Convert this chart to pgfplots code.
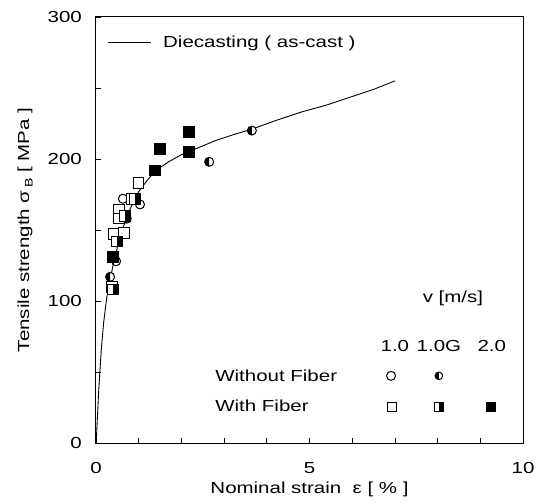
\documentclass[border=0pt]{standalone}
\usepackage{pgfplots}
\pgfplotsset{compat=1.18}
\usepackage{fontspec}
\setmainfont[FakeStretch=1.28]{Liberation Sans}
\usetikzlibrary{plotmarks}
\newcommand{\fs}{\fontsize{16bp}{18bp}\selectfont}
\pgfdeclareplotmark{hsqr}{%
  \pgfpathrectangle{\pgfpoint{-\pgfplotmarksize}{-\pgfplotmarksize}}{\pgfpoint{2\pgfplotmarksize}{2\pgfplotmarksize}}%
  \pgfsetfillcolor{white}\pgfusepathqfill
  \pgfpathrectangle{\pgfpoint{0pt}{-\pgfplotmarksize}}{\pgfpoint{\pgfplotmarksize}{2\pgfplotmarksize}}%
  \pgfsetfillcolor{black}\pgfusepathqfill
  \pgfpathrectangle{\pgfpoint{-\pgfplotmarksize}{-\pgfplotmarksize}}{\pgfpoint{2\pgfplotmarksize}{2\pgfplotmarksize}}%
  \pgfusepathqstroke
}
\begin{document}
\begin{tikzpicture}
\begin{axis}[
 scale only axis, width=427bp, height=426bp,
 xmin=0, xmax=10, ymin=0, ymax=300,
 xtick={0,5,10}, minor xtick={1,2,3,4,6,7,8,9},
 ytick={0,100,200,300}, minor ytick={50,150,250},
 xtick pos=bottom, ytick pos=left,
 tick align=inside, major tick length=5bp, minor tick length=5bp,
 tick style={black, line width=0.8bp},
 axis line style={line width=1bp},
 /pgf/number format/assume math mode=true,
 tick label style={font=\fs},
 xticklabel style={anchor=center, yshift=-25bp},
 yticklabel style={anchor=east, inner sep=0pt, xshift=-14bp},
 label style={font=\fs},
 xlabel={Nominal strain\ \ ε [ \% ]},
 ylabel={Tensile strength σ\,\raisebox{-0.4ex}{\fontsize{11bp}{12bp}\selectfont B} [ MPa ]},
 xlabel style={at={(axis description cs:0.5,-0.11)}, anchor=center},
 ylabel style={at={(axis description cs:-0.166,0.5)}, anchor=center},
 legend style={draw=none, fill=none, at={(axis description cs:0.026,0.941)}, anchor=west, inner sep=0pt, font=\fs},
 legend image code/.code={\draw[#1] (0bp,0bp) -- (43bp,0bp);},
 clip=false,
]
\coordinate (SW) at (rel axis cs:0,0);
\coordinate (NE) at (rel axis cs:1,1);
% master curve
\addplot[black, line width=0.9bp, mark=none] coordinates {
(0.01,3)(0.02,10)(0.04,22)(0.06,35)(0.09,50)(0.13,68)(0.18,85)(0.25,102)(0.33,115)(0.42,128)(0.52,140)(0.65,153)(0.8,165)(1.0,177)(1.2,185)(1.4,192)(1.7,198)(2.0,203)(2.4,208)(2.8,213)(3.2,217)(3.65,221)(4.2,227)(4.8,233)(5.4,238)(6.0,244)(6.5,249)(7.0,255)};
\addlegendentry{\hspace{10bp}Diecasting ( as-cast )}
% 1.0 without fiber: open circles
\addplot[forget plot, only marks, mark=o, mark size=4.5bp, line width=1bp, black] coordinates {
(0.63,172)(1.03,168)(0.47,128)(6.91,47.3)};
% 1.0G without fiber: half circles
\addplot[forget plot, only marks, mark=halfcircle*, mark size=4.5bp, line width=1bp, black, mark options={fill=white, mark color=black, rotate=-90}] coordinates {
(0.33,117)(0.72,158)(2.65,198)(3.65,220)};
\addplot[forget plot, only marks, mark=halfcircle*, mark size=3.8bp, line width=1bp, black, mark options={fill=white, mark color=black, rotate=-90}] coordinates {
(8.03,47.3)};
% 1.0 with fiber: open squares
\addplot[forget plot, only marks, mark=square*, mark size=5.3bp, line width=1bp, black, mark options={fill=white}] coordinates {
(0.37,110)(0.42,147)(0.54,164)(0.54,158)(0.65,148)(0.84,172)(1.0,183)};
% 1.0G with fiber: half squares
\addplot[forget plot, only marks, mark=hsqr, mark size=5.3bp, line width=1bp, black] coordinates {
(0.40,108)(0.49,142)(0.68,160)(0.91,172)};
% 2.0 with fiber: filled squares
\addplot[forget plot, only marks, mark=square*, mark size=5.3bp, line width=1bp, black, mark options={fill=black}] coordinates {
(0.40,131)(1.38,192)(1.5,207)(2.18,219)(2.18,205)};
% legend squares
\addplot[forget plot, only marks, mark=square*, mark size=4.8bp, line width=1bp, black, mark options={fill=white}] coordinates {(6.93,25.4)};
\addplot[forget plot, only marks, mark=hsqr, mark size=4.8bp, line width=1bp, black] coordinates {(8.03,25.4)};
\addplot[forget plot, only marks, mark=square*, mark size=4.8bp, line width=1bp, black, mark options={fill=black}] coordinates {(9.25,25.4)};
% legend texts
\node[font=\fs, anchor=center] at (axis cs:8.36,102) {v [m/s]};
\node[font=\fs, anchor=center] at (axis cs:7.0,68.5) {1.0};
\node[font=\fs, anchor=center] at (axis cs:8.03,68.5) {1.0G};
\node[font=\fs, anchor=center] at (axis cs:9.27,68.5) {2.0};
\node[font=\fs, anchor=west, inner sep=0pt] at (axis cs:2.79,47.3) {Without Fiber};
\node[font=\fs, anchor=west, inner sep=0pt] at (axis cs:2.79,26) {With Fiber};
\end{axis}
\pgfresetboundingbox
\path ([shift={(-96bp,-61bp)}]SW) rectangle ([shift={(15bp,17bp)}]NE);
\end{tikzpicture}
\end{document}
